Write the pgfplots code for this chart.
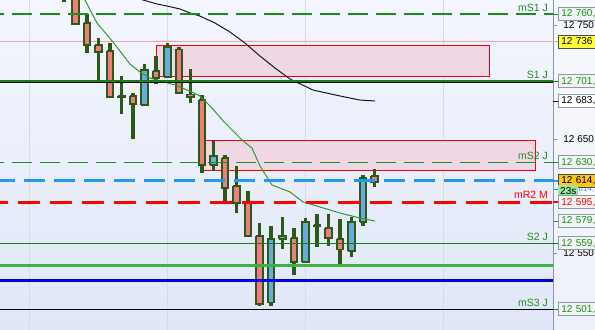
\documentclass[border=0pt]{standalone}
\usepackage{pgfplots}
\pgfplotsset{compat=1.18}
\usepackage{fontspec}
\setmainfont{Liberation Sans}

\definecolor{bgTop}{HTML}{F3F6FD}
\definecolor{bgBot}{HTML}{E1E7F8}
\definecolor{rpTop}{HTML}{F7F9FD}
\definecolor{rpBot}{HTML}{EEF1F9}
\definecolor{wick}{HTML}{2C5A16}
\definecolor{redM}{HTML}{EE7E7E}
\definecolor{bluM}{HTML}{68ACDE}
\definecolor{gridc}{HTML}{D6DBE8}
\definecolor{zoneFill}{HTML}{EFD8E3}
\definecolor{pinkline}{HTML}{F2A4AA}
\definecolor{lgreen}{HTML}{1E8C1E}
\definecolor{dgreen}{HTML}{128012}
\definecolor{mgreen}{HTML}{3CB43C}
\definecolor{dblue}{HTML}{1F9BF5}
\definecolor{sblue}{HTML}{0000E6}
\definecolor{magreen}{HTML}{2E9A2E}
\definecolor{axisc}{HTML}{8796A6}
\definecolor{boxgray}{HTML}{8A9AA8}
\definecolor{boxfill}{HTML}{F2F6F2}
\definecolor{yel}{HTML}{FFFF3A}
\definecolor{orng}{HTML}{FFC417}
\definecolor{tgreen}{HTML}{98E898}

% #1 fill colour, #2 left, #3 centre, #4 right, #5 high, #6 open, #7 close, #8 low
\newcommand{\candle}[8]{%
  \addplot[wick, line width=3.1bp] coordinates {(#3,#8) (#3,#5)};
  \addplot[draw=wick, fill=#1, line width=1.9bp, line join=miter] coordinates {(#2,#6) (#4,#6) (#4,#7) (#2,#7) (#2,#6)};}

\tikzset{
  lbl/.style={anchor=west, draw=boxgray, fill=boxfill, line width=0.8bp, inner xsep=3bp, inner ysep=0pt,
    minimum height=13bp, minimum width=48bp, text width=42bp, align=left, font=\fontsize{10bp}{12bp}\selectfont},
  plain/.style={anchor=west, inner sep=0pt, font=\fontsize{10bp}{12bp}\selectfont},
  clbl/.style={anchor=south east, inner sep=0pt, yshift=2.5bp, font=\fontsize{10.5bp}{12bp}\selectfont}
}

\begin{document}
\begin{tikzpicture}
\path[use as bounding box] (0,0) rectangle (595bp,330bp);
\shade[top color=bgTop, bottom color=bgBot] (0,0) rectangle (553bp,330bp);
\shade[top color=rpTop, bottom color=rpBot] (553bp,0) rectangle (595bp,330bp);
\begin{axis}[at={(0,0)}, anchor=south west, width=553bp, height=330bp, scale only axis,
  xmin=-5.565, xmax=42.522, ymin=12482.9, ymax=12772.4, hide axis, clip=true]

% vertical grid
\addplot[gridc, line width=0.8bp] coordinates {(-3.043,12470) (-3.043,12780)};
\addplot[gridc, line width=0.8bp] coordinates {(8.957,12470) (8.957,12780)};
\addplot[gridc, line width=0.8bp] coordinates {(20.957,12470) (20.957,12780)};
\addplot[gridc, line width=0.8bp] coordinates {(32.957,12470) (32.957,12780)};

% zones
\addplot[draw=red, line width=1bp, fill=zoneFill] coordinates {(8.026,12705.4) (36.983,12705.4) (36.983,12732.9) (8.026,12732.9) (8.026,12705.4)};
\addplot[draw=red, line width=1bp, fill=zoneFill] coordinates {(12.026,12622.4) (40.983,12622.4) (40.983,12649.0) (12.026,12649.0) (12.026,12622.4)};

% pink level
\addplot[pinkline, line width=1bp] coordinates {(-6,12736) (43,12736)};

% candles: colour, left, x, right, high, open, close, low
\candle{redM}{-0.28}{0}{0.28}{12810}{12800}{12785}{12771}
\candle{redM}{0.72}{1}{1.28}{12800}{12790}{12751}{12751}
\candle{redM}{1.72}{2}{2.28}{12760}{12752}{12733}{12726}
\candle{redM}{2.72}{3}{3.28}{12739}{12733}{12726.5}{12700}
\candle{redM}{3.72}{4}{4.28}{12735}{12728}{12687}{12687}
\candle{redM}{4.72}{5}{5.28}{12706}{12688.5}{12687.5}{12672}
\candle{redM}{5.72}{6}{6.28}{12691}{12688}{12681}{12650.5}
\candle{bluM}{6.72}{7}{7.28}{12716}{12680}{12711}{12679}
\candle{redM}{7.72}{8}{8.28}{12723}{12710}{12704}{12698.5}
\candle{bluM}{8.72}{9}{9.28}{12734.5}{12704.5}{12731}{12704}
\candle{redM}{9.72}{10}{10.28}{12731.5}{12729}{12691}{12691}
\candle{redM}{10.72}{11}{11.28}{12711.5}{12689.5}{12687}{12682}
\candle{redM}{11.72}{12}{12.28}{12689}{12685}{12627.5}{12620.5}
\candle{bluM}{12.72}{13}{13.28}{12649}{12627.5}{12635.5}{12622.5}
\candle{redM}{13.72}{14}{14.28}{12636.5}{12633.5}{12607.5}{12596.5}
\candle{redM}{14.72}{15}{15.28}{12627}{12609}{12594.5}{12585.5}
\candle{redM}{15.72}{16}{16.28}{12605}{12594.5}{12565.5}{12564.5}
\candle{redM}{16.72}{17}{17.28}{12577}{12565}{12505.5}{12504}
\candle{bluM}{17.72}{18}{18.28}{12574}{12507}{12562.5}{12504}
\candle{bluM}{18.72}{19}{19.28}{12582}{12562.5}{12565}{12554}
\candle{redM}{19.72}{20}{20.28}{12572.5}{12563.5}{12542.5}{12531.5}
\candle{bluM}{20.72}{21}{21.28}{12581}{12542.5}{12578}{12542}
\candle{redM}{21.72}{22}{22.28}{12584.5}{12575}{12574}{12556}
\candle{redM}{22.72}{23}{23.28}{12584.5}{12572}{12564}{12557}
\candle{redM}{23.72}{24}{24.28}{12580.5}{12562.5}{12553.5}{12540}
\candle{bluM}{24.72}{25}{25.28}{12582}{12552}{12577.5}{12547}
\candle{bluM}{25.72}{26}{26.28}{12619}{12577.5}{12616}{12574.5}
\candle{redM}{26.72}{27}{27.28}{12624}{12618}{12613}{12608.5}

% moving averages
\addplot[magreen, line width=1bp] coordinates {
(1.50,12778) (1.826,12772.4) (2.870,12752.2) (4.261,12735.5) (5.739,12716.2) (6.609,12709.2)
(7.478,12703.9) (9.652,12697.8) (11.130,12691.7) (11.826,12688.2) (12.870,12677.6)
(14.000,12664.5) (15.478,12649.6) (16.348,12642.5) (17.043,12626.8) (18.087,12610.1)
(19.652,12604.0) (20.783,12595.2) (22.261,12590.8) (24.000,12585.5) (25.739,12581.1) (27.043,12578.5)};
\addplot[black!90, line width=1bp] coordinates {
(6.50,12775) (6.870,12772.4) (8.087,12768.9) (8.957,12767.1) (10.087,12764.5) (10.957,12761.0)
(11.826,12758.3) (13.130,12752.2) (14.435,12744.3) (15.739,12734.6) (17.043,12723.2)
(18.348,12712.7) (19.652,12703.1) (21.652,12693.4) (24.000,12688.2) (25.739,12684.6) (27.043,12683.8)};

% horizontal levels
\addplot[lgreen, line width=1.3bp, dash pattern=on 20bp off 8bp, dash phase=16bp] coordinates {(-5.565,12760) (43,12760)};
\addplot[black, line width=1.2bp] coordinates {(-6,12700.2) (43,12700.2)};
\addplot[dgreen, line width=1.5bp] coordinates {(-6,12701.3) (43,12701.3)};
\addplot[lgreen, line width=1.3bp, dash pattern=on 20bp off 8bp, dash phase=16bp] coordinates {(-5.565,12630) (43,12630)};
\addplot[dblue, line width=2.6bp, dash pattern=on 21bp off 9bp, dash phase=6bp] coordinates {(-5.565,12614) (43,12614)};
\addplot[red, line width=3bp, dash pattern=on 22bp off 10bp, dash phase=14bp] coordinates {(-5.565,12595) (43,12595)};
\addplot[dgreen, line width=1.3bp] coordinates {(-6,12559) (43,12559)};
\addplot[mgreen, line width=3bp] coordinates {(-6,12539.3) (43,12539.3)};
\addplot[sblue, line width=3bp] coordinates {(-6,12526.1) (43,12526.1)};
\addplot[black, line width=1.2bp] coordinates {(-6,12501) (43,12501)};

% line labels
\node[clbl, text=lgreen] at (axis cs:42.09,12760) {mS1 J};
\node[clbl, text=lgreen] at (axis cs:42.09,12701.3) {S1 J};
\node[clbl, text=lgreen] at (axis cs:42.09,12630) {mS2 J};
\node[clbl, text=red, yshift=1bp] at (axis cs:42.09,12595) {mR2 M};
\node[clbl, text=lgreen] at (axis cs:42.09,12559) {S2 J};
\node[clbl, text=lgreen] at (axis cs:42.09,12501) {mS3 J};

% anchors for the price scale
\coordinate (r760) at (axis cs:42.522,12760);
\coordinate (r750) at (axis cs:42.522,12750);
\coordinate (r736) at (axis cs:42.522,12736);
\coordinate (r701) at (axis cs:42.522,12701);
\coordinate (r683) at (axis cs:42.522,12683.8);
\coordinate (r650) at (axis cs:42.522,12650);
\coordinate (r630) at (axis cs:42.522,12630);
\coordinate (r614) at (axis cs:42.522,12614);
\coordinate (r614b) at (axis cs:42.522,12606);
\coordinate (r23) at (axis cs:42.522,12605);
\coordinate (r595) at (axis cs:42.522,12595);
\coordinate (r579) at (axis cs:42.522,12578.5);
\coordinate (r559) at (axis cs:42.522,12559);
\coordinate (r550) at (axis cs:42.522,12550);
\coordinate (r501) at (axis cs:42.522,12501);
\end{axis}

% price scale
\draw[axisc, line width=1bp] (553bp,0) -- (553bp,330bp);
\draw[axisc, line width=0.8bp] (r750) -- ++(4bp,0) node[plain, xshift=6bp, text=black] {12 750};
\draw[axisc, line width=0.8bp] (r650) -- ++(4bp,0) node[plain, xshift=6bp, text=black] {12 650};
\draw[axisc, line width=0.8bp] (r550) -- ++(4bp,0) node[plain, xshift=6bp, text=black] {12 550};

\draw[lgreen, line width=1bp] (r760) -- ++(5bp,0) node[lbl, text=lgreen] {12 760,};
\draw[pinkline, line width=1bp] (r736) -- ++(5bp,0) node[lbl, fill=yel, draw=black!70, text=black] {12 736};
\draw[dgreen, line width=1.5bp] (r701) -- ++(5bp,0) node[lbl, text=lgreen] {12 701,};
\draw[black, line width=0.8bp] (r683) -- ++(5bp,0) node[lbl, fill=white, text=black] {12 683,};
\draw[lgreen, line width=1bp] (r630) -- ++(5bp,0) node[lbl, text=lgreen] {12 630,};
\draw[dblue, line width=1bp] (r614b) -- ++(5bp,0);
\draw[draw=dblue!60, fill=white, line width=0.8bp] ([xshift=5bp,yshift=-6.5bp]r614b) rectangle ++(50bp,13bp);
\node[plain, text=dblue, font=\fontsize{8bp}{10bp}\selectfont] at ([xshift=25.5bp]r614b) {614,};
\draw[dblue, line width=2bp] (r614) -- ++(5bp,0) node[lbl, fill=orng, draw=black!70, text=black] {12 614,};
\node[anchor=west, fill=tgreen, inner xsep=2bp, inner ysep=0pt, minimum height=12bp, minimum width=20bp, font=\fontsize{10bp}{12bp}\selectfont] at ([xshift=5bp]r23) {23s};
\draw[red, line width=1.5bp] (r595) -- ++(5bp,0) node[lbl, text=red] {12 595,};
\draw[magreen, line width=1bp] (r579) -- ++(5bp,0) node[lbl, text=lgreen] {12 579,};
\draw[dgreen, line width=1bp] (r559) -- ++(5bp,0) node[lbl, text=lgreen] {12 559,};
\draw[lgreen, line width=1bp] (r501) -- ++(5bp,0) node[lbl, text=lgreen] {12 501,};
\end{tikzpicture}
\end{document}
